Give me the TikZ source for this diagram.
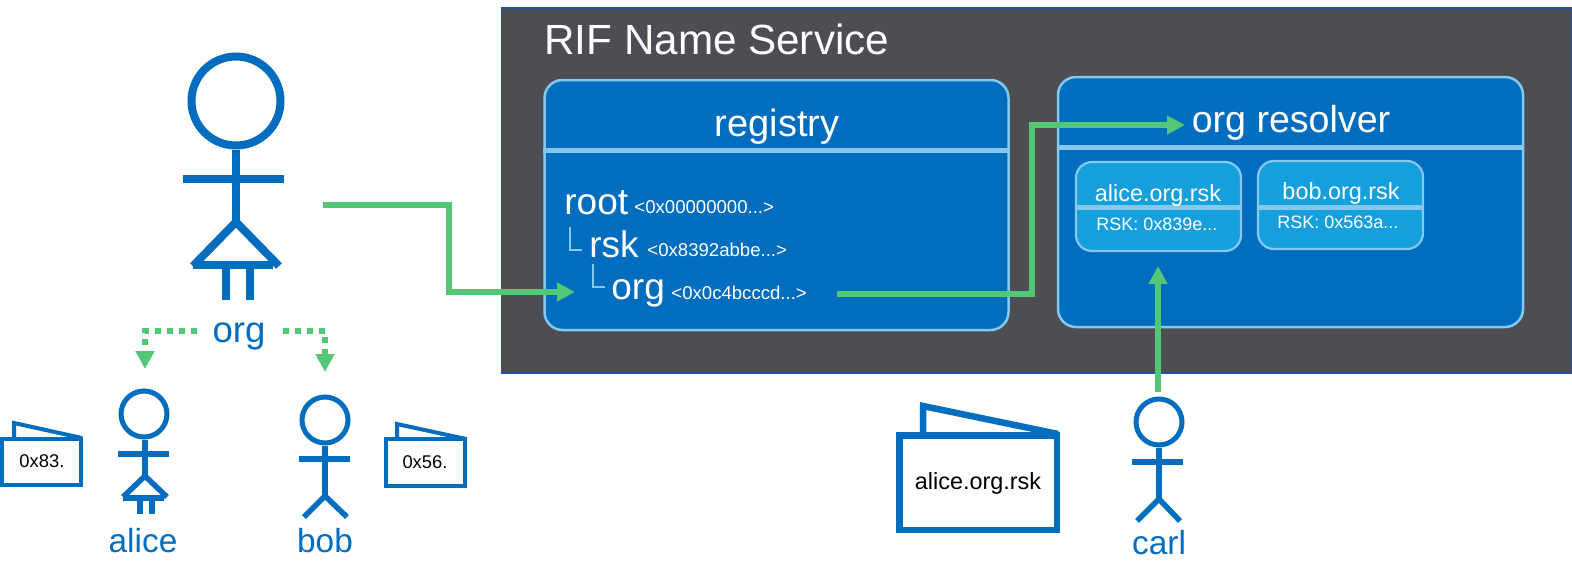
\documentclass[tikz,border=0pt]{standalone}
\usepackage{fontspec}
\setmainfont{Liberation Sans}
\usetikzlibrary{arrows.meta,calc}
\definecolor{panelgrey}{HTML}{4D4E53}
\definecolor{paneledge}{HTML}{2A4F9C}
\definecolor{rnsblue}{HTML}{016DBF}
\definecolor{rnslight}{HTML}{85C8EE}
\definecolor{rnssub}{HTML}{159FDD}
\definecolor{rnsgreen}{HTML}{52C876}
\newcommand{\fsz}[1]{\fontsize{#1pt}{#1pt}\selectfont}
\tikzset{
  x=0.5pt,y=-0.5pt,
  panelbox/.style={draw=rnslight,fill=rnsblue,line width=1.25pt,rounded corners=9pt,inner sep=0pt},
  subbox/.style={draw=rnslight,fill=rnssub,line width=1.1pt,rounded corners=8pt,inner sep=0pt},
  sepline/.style={draw=rnslight,line width=2.5pt},
  treeline/.style={draw=rnslight,line width=0.6pt},
  flow/.style={draw=rnsgreen,line width=3pt,-{Triangle[length=9pt,width=9pt]}},
  dotflow/.style={flow,dash pattern=on 3pt off 3pt},
  txt/.style={inner sep=0pt,anchor=base,text=white},
  txtl/.style={inner sep=0pt,anchor=base west,text=white},
  bluetxt/.style={inner sep=0pt,anchor=base,text=rnsblue},
  blacktxt/.style={inner sep=0pt,anchor=base,text=black},
  fig/.style={draw=rnsblue,line width=#1},
  fig/.default=2.75pt,
  head/.style={circle,draw=rnsblue,line width=2.5pt,inner sep=0pt,fill=white},
  wallet/.style={draw=rnsblue,line width=2pt},
}
\begin{document}
\begin{tikzpicture}
\useasboundingbox (0,0) rectangle (1572,584);
\fill[white] (0,0) rectangle (1572,584);
% panel
\node (panel) [draw=paneledge,fill=panelgrey,line width=0.75pt,minimum width=535pt,minimum height=182.5pt,inner sep=0pt] at (1036.5,190.5) {};
\node (title) [txtl] at (544,54) {\fsz{21.1}RIF Name Service};
% registry
\node (registry) [panelbox,minimum width=232pt,minimum height=125pt] at (776.5,205) {};
\draw[sepline] (registry.west |- 0,150) -- (registry.east |- 0,150);
\node (regt) [txt] at (777,136) {\fsz{19}registry};
\node (root) [txtl] at (564,214) {\fsz{18.5}root};
\node (roothex) [txtl] at (634,213) {\fsz{9.3}<0x00000000...>};
\node (rsk) [txtl] at (589,257) {\fsz{18.5}rsk};
\node (rskhex) [txtl] at (647,256) {\fsz{9.3}<0x8392abbe...>};
\node (orgn) [txtl] at (611,299) {\fsz{18.5}org};
\node (orghex) [txtl] at (671,299) {\fsz{9.3}<0x0c4bcccd...>};
\draw[treeline] (570,227) -- (570,250) -- (582,250);
\draw[treeline] (593,264) -- (593,287) -- (605,287);
% resolver
\node (resolver) [panelbox,minimum width=232.5pt,minimum height=125pt] at (1290.5,202) {};
\draw[sepline] (resolver.west |- 0,147) -- (resolver.east |- 0,147);
\node (rest) [txt] at (1291,132) {\fsz{18.8}org resolver};
\node (alicebox) [subbox,minimum width=82.5pt,minimum height=44.5pt] at (1158.5,206.5) {};
\draw[sepline] (alicebox.west |- 0,207) -- (alicebox.east |- 0,207);
\node (alicet) [txt] at (1158,201) {\fsz{11.7}alice.org.rsk};
\node (alicev) [txtl] at (1096,230) {\fsz{9}RSK: 0x839e...};
\node (bobbox) [subbox,minimum width=82.5pt,minimum height=44pt] at (1340.5,205) {};
\draw[sepline] (bobbox.west |- 0,207) -- (bobbox.east |- 0,207);
\node (bobt) [txt] at (1341,199) {\fsz{11.7}bob.org.rsk};
\node (bobv) [txtl] at (1277,228) {\fsz{9}RSK: 0x563a...};
% big org person
\node (orghead) [head,line width=4pt,minimum size=44.5pt] at (236,101) {};
\draw[fig=4pt] (orghead.south) -- (236,222);
\draw[fig=4pt] (183,179) -- (284,179);
\draw[fig=4pt] (193,266) -- (236,222) -- (279,266);
\draw[fig=4pt] (193,265) -- (273,265);
\draw[fig=4pt] (226,265) -- (226,300);
\draw[fig=4pt] (250,265) -- (250,300);
\node (orgl) [bluetxt] at (239,342) {\fsz{18.3}org};
% alice
\node (alicehead) [head,minimum size=23pt] at (144,414) {};
\draw[fig] (alicehead.south -| 145,0) -- (145,476);
\draw[fig] (118,454) -- (169,454);
\draw[fig] (123,497) -- (145,476) -- (167,497);
\draw[fig] (123,498) -- (164,498);
\draw[fig=3pt] (140,498) -- (140,514);
\draw[fig=3pt] (152,498) -- (152,514);
\node (alicel) [bluetxt] at (143,552) {\fsz{16.7}alice};
% bob
\node (bobhead) [head,minimum size=23pt] at (325,420) {};
\draw[fig] (bobhead.south) -- (325,497);
\draw[fig] (299,459) -- (350,459);
\draw[fig] (304,517) -- (325,496) -- (347,517);
\node (bobl) [bluetxt] at (325,552) {\fsz{16.7}bob};
% carl
\node (carlhead) [head,minimum size=23pt] at (1159,422) {};
\draw[fig] (carlhead.south) -- (1159,499);
\draw[fig] (1132,462) -- (1183,462);
\draw[fig] (1137,521) -- (1159,499) -- (1180,521);
\node (carll) [bluetxt] at (1159,554) {\fsz{16.7}carl};
% wallets
\draw[wallet] (14,437) -- (14,423) -- (82,438);
\node (w1) [wallet,fill=white,minimum width=39.5pt,minimum height=23pt,inner sep=0pt] at (41.5,462) {};
\node (w1t) [blacktxt] at (42,467) {\fsz{9.2}0x83.};
\draw[wallet] (397,437) -- (397,424) -- (466,439);
\node (w2) [wallet,fill=white,minimum width=39.5pt,minimum height=23.5pt,inner sep=0pt] at (425.5,462.5) {};
\node (w2t) [blacktxt] at (425,468) {\fsz{9.2}0x56.};
\draw[wallet,line width=3.25pt] (923,434) -- (923,406) -- (1058,434);
\node (w3) [wallet,line width=3.25pt,fill=white,minimum width=78.75pt,minimum height=47.25pt,inner sep=0pt] at (978,482.5) {};
\node (w3t) [blacktxt] at (978,489) {\fsz{11.7}alice.org.rsk};
% connectors
\coordinate (a1) at (323,205);
\coordinate (a2) at (575,292);
\draw[flow] (a1) -- (449,205) -- (449,292) -- (a2);
\coordinate (b1) at (837,294);
\coordinate (b2) at (1185,125);
\draw[flow] (b1) -- (1032,294) -- (1032,125) -- (b2);
\coordinate (c1) at (1158,392);
\coordinate (c2) at (1158,266);
\draw[flow] (c1) -- (c2);
\coordinate (d1) at (197,331);
\coordinate (d2) at (145,369);
\draw[dotflow] (d1) -| (d2);
\coordinate (e1) at (283,331);
\coordinate (e2) at (325,372);
\draw[dotflow] (e1) -| (e2);
\end{tikzpicture}
\end{document}
